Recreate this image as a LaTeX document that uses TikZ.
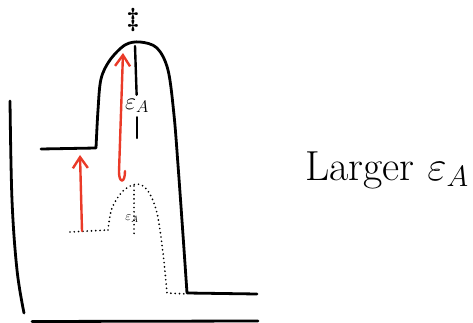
\documentclass[tikz,border=0pt]{standalone}
\usepackage{fix-cm}
\usepackage{amsmath}
\usepackage{tikz}
\usetikzlibrary{arrows.meta,positioning}

\definecolor{sketchred}{RGB}{234,58,40}

\begin{document}
\begin{tikzpicture}[
        x=1pt, y=-1pt,
        curve/.style={draw, line width=2.8pt, line cap=round, line join=round},
        dotcurve/.style={draw, line width=1.9pt, line cap=round, dash pattern=on 0pt off 4.3pt},
        redline/.style={draw, sketchred, line width=2.4pt, line cap=round, -{Straight Barb[length=11pt, width=15pt, line width=2.4pt]}},
        label/.style={inner sep=1pt, font=\fontsize{24}{24}\selectfont}
    ]
        \useasboundingbox (0,0) rectangle (473,323);

        % axes
        \draw [curve] plot[smooth, tension=0.6] coordinates {(10,101) (12,200) (17,270) (24,313)};
        \draw [curve] (32,321.5) -- (258,321);

        % uncatalysed (solid) and catalysed (dotted) profiles
        \draw [curve] (41,149) -- (96,148)
            plot[smooth, tension=0.55] coordinates {(96,148) (98,110) (101,79) (110,60) (125,45) (140,42) (157,48) (168,70) (174,115) (178,165) (183,235) (187,293)}
            -- (257,294);
        \draw [dotcurve] (70,232) -- (108,230)
            plot[smooth, tension=0.55] coordinates {(108,230) (112,208) (123,191) (137,184) (148,191) (157,213) (163,253) (167,293)}
            -- (188,294);

        \coordinate (peak) at (135,46);
        \coordinate (eabot) at (137,138);
        \coordinate (dpeak) at (134,186);
        \coordinate (dbot) at (134,237);
        \coordinate (lowlvl) at (82,231);
        \coordinate (reactlvl) at (80,155);
        \coordinate (hook) at (125,171);
        \coordinate (tstop) at (123,53);

        \node (ts) at (133,20) {\fontsize{26}{26}\selectfont$\boldsymbol{\ddagger}$};
        \node [label, inner sep=4pt] (ea) at (137,106) {$\varepsilon_A$};
        \node [inner sep=0.5pt, font=\fontsize{13}{13}\selectfont] (eacat) at (132,219) {$\varepsilon_A$};
        \node [font=\fontsize{42}{42}\selectfont] (larger) at (387,170) {Larger $\varepsilon_A$};

        % barrier heights
        \draw [line width=2.4pt, line cap=round] (peak) -- (ea);
        \draw [line width=2.4pt, line cap=round] (ea) -- (eabot);
        \draw [dotcurve] (dpeak) -- (dbot);

        \draw [redline] (lowlvl) -- (reactlvl);
        \draw [redline] (hook) .. controls (125,184) and (119,183) .. (119,172) -- (tstop);
\end{tikzpicture}
\end{document}
